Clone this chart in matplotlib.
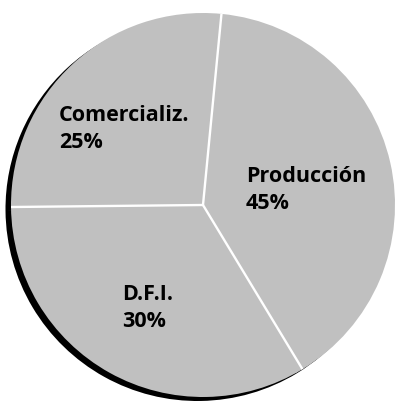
import matplotlib
matplotlib.use("Agg")
import matplotlib.pyplot as plt
import numpy as np

# slices as they appear (label text shows the nominal percentages)
labels = ["Producción", "Comercializ.", "D.F.I."]
percents = [45, 25, 30]
slice_shares = [39.8, 26.7, 33.5]  # angular share

W, H = 397, 401
fig = plt.figure(figsize=(W / 100, H / 100), dpi=100)
ax = fig.add_axes([0, 0, 1, 1])

cx, cy, r = 203, H - 205, 192
start = -58.8

# black drop shadow, offset down-left
ax.pie(slice_shares, center=(cx - 5.5, cy - 4), radius=r, startangle=start,
       colors=["black"] * 3, wedgeprops=dict(linewidth=0))
wedges, _ = ax.pie(slice_shares, center=(cx, cy), radius=r, startangle=start,
                   colors=["#c0c0c0"] * 3, wedgeprops=dict(linewidth=0))

# white separators only between slices (no outer rim)
for w in wedges:
    th = np.deg2rad(w.theta1)
    ax.plot([cx, cx + r * np.cos(th)], [cy, cy + r * np.sin(th)],
            color="white", lw=1.7, solid_capstyle="butt")

# label anchors (left edge, baseline of the percent line) in pixels from top-left
label_pos = {"Producción": (246, 209), "Comercializ.": (59, 148), "D.F.I.": (122, 327)}
for name, pct in zip(labels, percents):
    x, y = label_pos[name]
    ax.text(x, H - y, f"{name}\n{pct}%", ha="left", va="baseline",
            fontsize=15.5, fontweight="bold", family="Open Sans",
            linespacing=1.4, color="black")

ax.set_xlim(0, W)
ax.set_ylim(0, H)
ax.set_aspect("equal")
ax.axis("off")
fig.savefig("out.png", dpi=100, facecolor="white")
